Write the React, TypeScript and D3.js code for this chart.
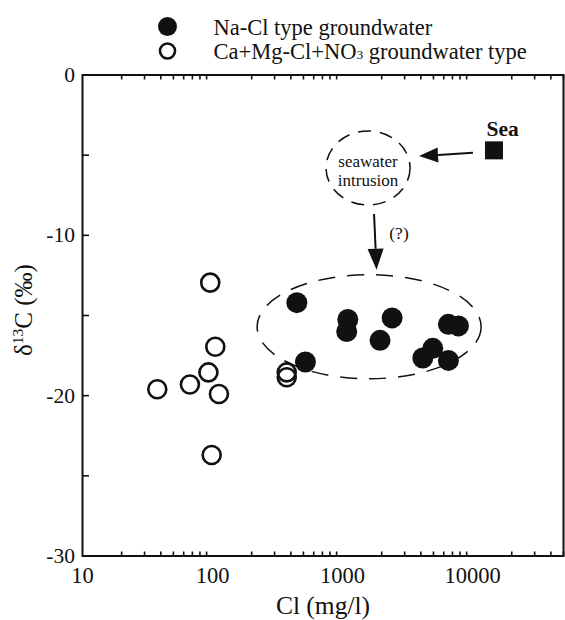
import React from "react";
import * as d3 from "d3";

// ---------- data ----------
const naClCl = [445, 1097, 1076, 2404, 1941, 518, 6515, 7780, 4940, 4140, 6515];
const naClD13C = [-14.2, -15.25, -16.0, -15.15, -16.55, -17.9, -15.55, -15.65, -17.05, -17.65, -17.8];

const caMgCl = [96, 105, 93, 67, 37.6, 112, 98.5, 372, 372];
const caMgD13C = [-12.95, -16.95, -18.55, -19.3, -19.6, -19.9, -23.7, -18.55, -18.85];

const seaCl = [14600];
const seaD13C = [-4.7];

const xTickValues = [10, 100, 1000, 10000];
const xTickLabels = ["10", "100", "1000", "10000"];
const yTickValues = [0, -10, -20, -30];
const yTickLabels = ["0", "-10", "-20", "-30"];
const yMinorTicks = [-5, -15, -25];

const legendLabels = ["Na-Cl type groundwater", "Ca+Mg-Cl+NO"];

// annotation anchors (data space)
const intrusionCenter = { cl: 1570, d: -5.8 };
const naClGroupCenter = { cl: 1600, d: -15.7 };

const W = 565;
const H = 620;
const M = { left: 82.5, right: 1.5, top: 75, bottom: 64 };
const FONT = "'Liberation Serif', 'Times New Roman', serif";

export default function App() {
  const x = d3.scaleLog().domain([10, 50000]).range([M.left, W - M.right]);
  const y = d3.scaleLinear().domain([-30, 0]).range([H - M.bottom, M.top]);
  const x0 = x.range()[0], x1 = x.range()[1];
  const y0 = y.range()[0], y1 = y.range()[1];

  // minor x ticks 2..9 per decade
  const minorX: number[] = [];
  for (let e = 1; e <= 4; e++) {
    for (let m = 2; m <= 9; m++) {
      const v = m * Math.pow(10, e);
      if (v <= 50000) minorX.push(v);
    }
  }

  const seaX = x(seaCl[0]);
  const seaY = y(seaD13C[0]);
  const icx = x(intrusionCenter.cl);
  const icy = y(intrusionCenter.d);
  const gcx = x(naClGroupCenter.cl);
  const gcy = y(naClGroupCenter.d);

  // arrow: sea -> intrusion bubble
  const a1Start = [seaX - 21, seaY + 2.5];
  const a1Tip = [icx + 51, icy - 12];
  // arrow: bubble -> group
  const a2Start = [icx + 6, icy + 46];
  const a2Tip = [icx + 8.5, gcy - 57];

  const arrowHead = (sx: number, sy: number, tx: number, ty: number, len: number, half: number) => {
    const ang = Math.atan2(ty - sy, tx - sx);
    const bx = tx - len * Math.cos(ang);
    const by = ty - len * Math.sin(ang);
    const px = -Math.sin(ang) * half;
    const py = Math.cos(ang) * half;
    return { path: `M${tx},${ty}L${bx + px},${by + py}L${bx - px},${by - py}Z`, bx, by };
  };
  const h1 = arrowHead(a1Start[0], a1Start[1], a1Tip[0], a1Tip[1], 19, 7.5);
  const h2 = arrowHead(a2Start[0], a2Start[1], a2Tip[0], a2Tip[1], 21, 8);

  return (
    <svg
      width={W}
      height={H}
      style={{ position: "absolute", left: 0, top: 0, background: "#fff" }}
      fontFamily={FONT}
    >
      <rect x={0} y={0} width={W} height={H} fill="#fff" />

      {/* legend */}
      <circle cx={167.5} cy={26.5} r={9.5} fill="#111" />
      <text x={213.5} y={35} fontSize={22.5} fill="#111">{legendLabels[0]}</text>
      <circle cx={167.5} cy={51} r={7.5} fill="none" stroke="#111" strokeWidth={2.6} />
      <text x={213.5} y={59} fontSize={22.5} fill="#111">
        {legendLabels[1]}
        <tspan fontSize={13.5}>3</tspan>
        <tspan> groundwater type</tspan>
      </text>

      {/* frame */}
      <rect x={x0} y={y1} width={x1 - x0} height={y0 - y1} fill="none" stroke="#111" strokeWidth={2} />

      {/* x ticks, bottom and top */}
      {minorX.map((v, i) => {
        const major = xTickValues.includes(v);
        const len = major ? 8 : 4.5;
        return (
          <g key={"mx" + i} stroke="#111" strokeWidth={1.6}>
            <line x1={x(v)} x2={x(v)} y1={y0} y2={y0 - len} />
            <line x1={x(v)} x2={x(v)} y1={y1} y2={y1 + len} />
          </g>
        );
      })}
      {xTickValues.map((v, i) => (
        <text key={"xl" + i} x={x(v)} y={583} textAnchor="middle" fontSize={22.5} fill="#111">
          {xTickLabels[i]}
        </text>
      ))}

      {/* y ticks */}
      {[...yTickValues, ...yMinorTicks].map((v, i) => (
        <line key={"yt" + i} x1={x0} x2={x0 + 6.5} y1={y(v)} y2={y(v)} stroke="#111" strokeWidth={1.6} />
      ))}
      {yTickValues.map((v, i) => (
        <text key={"yl" + i} x={75} y={y(v) + 7} textAnchor="end" fontSize={21.5} fill="#111">
          {yTickLabels[i]}
        </text>
      ))}

      {/* axis titles */}
      <text x={(x0 + x1) / 2} y={614} textAnchor="middle" fontSize={25.5} fill="#111">Cl (mg/l)</text>
      <text
        transform={`translate(32,310) rotate(-90)`}
        textAnchor="middle"
        fontSize={25}
        fill="#111"
      >
        δ<tspan fontSize={15.5} dy={-9}>13</tspan>
        <tspan dy={9}>C (‰)</tspan>
      </text>

      {/* annotations */}
      <ellipse cx={icx} cy={icy} rx={42} ry={37} fill="none" stroke="#111" strokeWidth={1.5} strokeDasharray="13,9" />
      <text x={icx} y={icy - 1} textAnchor="middle" fontSize={17} fill="#111">seawater</text>
      <text x={icx} y={icy + 18} textAnchor="middle" fontSize={17} fill="#111">intrusion</text>

      <ellipse cx={gcx} cy={gcy} rx={112} ry={52} fill="none" stroke="#111" strokeWidth={1.5} strokeDasharray="17,12" />

      <line x1={a1Start[0]} y1={a1Start[1]} x2={h1.bx} y2={h1.by} stroke="#111" strokeWidth={2} />
      <path d={h1.path} fill="#111" />
      <line x1={a2Start[0]} y1={a2Start[1]} x2={h2.bx} y2={h2.by} stroke="#111" strokeWidth={2} />
      <path d={h2.path} fill="#111" />
      <text x={399} y={239} textAnchor="middle" fontSize={17.5} fill="#111">(?)</text>

      <text x={seaX - 7.5} y={136} fontSize={21.5} fontWeight="bold" fill="#111">Sea</text>
      {seaCl.map((v, i) => (
        <rect key={"sea" + i} x={x(v) - 9} y={y(seaD13C[i]) - 9} width={18} height={18} fill="#111" />
      ))}

      {/* open circles */}
      {caMgCl.map((v, i) => (
        <circle key={"o" + i} cx={x(v)} cy={y(caMgD13C[i])} r={9} fill="none" stroke="#111" strokeWidth={2.6} />
      ))}
      {/* filled circles */}
      {naClCl.map((v, i) => (
        <circle key={"f" + i} cx={x(v)} cy={y(naClD13C[i])} r={10.5} fill="#111" />
      ))}
    </svg>
  );
}
